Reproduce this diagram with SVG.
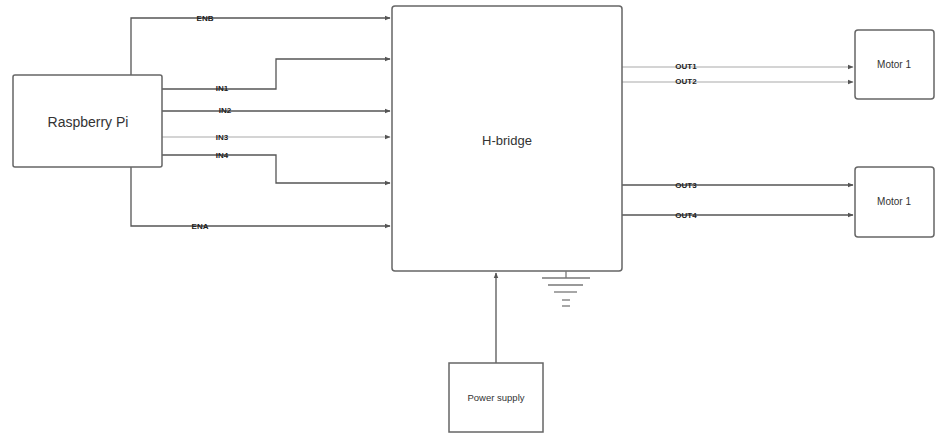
<svg xmlns="http://www.w3.org/2000/svg" width="935" height="433" viewBox="0 0 935 433">
<defs>
<style>
.box{fill:#fff;stroke:#666;stroke-width:1.5}
.w{fill:none;stroke:#555;stroke-width:1.3}
.lw{fill:none;stroke:#aaa;stroke-width:1.2}
.t{font-family:"Liberation Sans",Arial,sans-serif;fill:#333;text-anchor:middle}
.lbl{font-family:"Liberation Sans",Arial,sans-serif;fill:#222;font-size:8px;text-anchor:middle;font-weight:bold}
.g{stroke:#777;stroke-width:1.3}
</style>
<marker id="ah" viewBox="0 0 10 10" refX="9" refY="5" markerWidth="6" markerHeight="6" orient="auto" markerUnits="userSpaceOnUse">
<path d="M0,1 L10,5 L0,9 z" fill="#555"/>
</marker>
</defs>
<rect width="935" height="433" fill="#fff"/>
<g id="connectors">
<path class="w" d="M131,75 V18 H390" marker-end="url(#ah)"/>
<path class="w" d="M162,89 H276 V59 H390" marker-end="url(#ah)"/>
<path class="w" d="M162,111 H390" marker-end="url(#ah)"/>
<path class="lw" d="M162,137 H390" marker-end="url(#ah)"/>
<path class="w" d="M162,155 H276 V183 H390" marker-end="url(#ah)"/>
<path class="w" d="M131,167 V226 H390" marker-end="url(#ah)"/>
<path class="lw" d="M622,67 H853" marker-end="url(#ah)"/>
<path class="lw" d="M622,82 H853" marker-end="url(#ah)"/>
<path class="w" d="M622,185 H853" marker-end="url(#ah)"/>
<path class="w" d="M622,215 H853" marker-end="url(#ah)"/>
<path class="w" d="M496,363 V273" marker-end="url(#ah)"/>
<text class="lbl" x="205" y="21">ENB</text>
<text class="lbl" x="222" y="91">IN1</text>
<text class="lbl" x="225" y="113">IN2</text>
<text class="lbl" x="222" y="140">IN3</text>
<text class="lbl" x="222" y="158">IN4</text>
<text class="lbl" x="200" y="229">ENA</text>
<text class="lbl" x="686" y="69">OUT1</text>
<text class="lbl" x="686" y="84">OUT2</text>
<text class="lbl" x="686" y="188">OUT3</text>
<text class="lbl" x="686" y="218">OUT4</text>
</g>
<g id="raspberry-pi">
<rect class="box" x="13" y="75" width="149" height="92" rx="2"/>
<text class="t" x="88" y="127" font-size="14">Raspberry Pi</text>
</g>
<g id="h-bridge">
<rect class="box" x="392" y="6" width="230" height="265" rx="3"/>
<text class="t" x="507" y="145" font-size="13">H-bridge</text>
</g>
<g id="motor-1">
<rect class="box" x="855" y="30" width="79" height="69" rx="3"/>
<text class="t" x="894" y="68" font-size="10">Motor 1</text>
</g>
<g id="motor-2">
<rect class="box" x="855" y="167" width="79" height="70" rx="3"/>
<text class="t" x="894" y="205" font-size="10">Motor 1</text>
</g>
<g id="power-supply">
<rect class="box" x="449" y="363" width="94" height="69"/>
<text class="t" x="496" y="401" font-size="9.5">Power supply</text>
</g>
<g id="ground">
<line class="g" x1="566" y1="271" x2="566" y2="278"/>
<line class="g" x1="542" y1="278" x2="590" y2="278"/>
<line class="g" x1="548" y1="285" x2="583" y2="285"/>
<line class="g" x1="554" y1="292" x2="577" y2="292"/>
<line class="g" x1="562" y1="300" x2="570" y2="300"/>
<line class="g" x1="562" y1="306" x2="570" y2="306"/>
</g>
</svg>
